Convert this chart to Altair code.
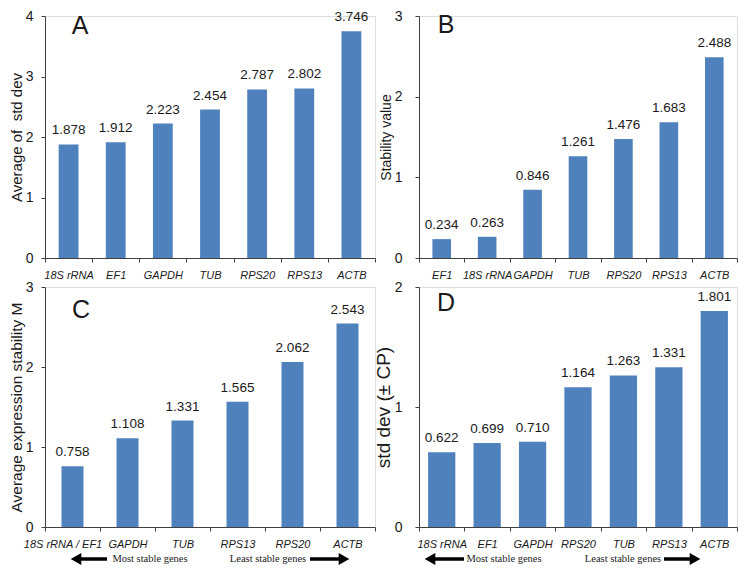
import altair as alt
import pandas as pd

# Panel A
genes_a = ["18S rRNA", "EF1", "GAPDH", "TUB", "RPS20", "RPS13", "ACTB"]
vals_a = [1.878, 1.912, 2.223, 2.454, 2.787, 2.802, 3.746]
# Panel B
genes_b = ["EF1", "18S rRNA", "GAPDH", "TUB", "RPS20", "RPS13", "ACTB"]
vals_b = [0.234, 0.263, 0.846, 1.261, 1.476, 1.683, 2.488]
# Panel C
genes_c = ["18S rRNA / EF1", "GAPDH", "TUB", "RPS13", "RPS20", "ACTB"]
vals_c = [0.758, 1.108, 1.331, 1.565, 2.062, 2.543]
# Panel D
genes_d = ["18S rRNA", "EF1", "GAPDH", "RPS20", "TUB", "RPS13", "ACTB"]
vals_d = [0.622, 0.699, 0.710, 1.164, 1.263, 1.331, 1.801]

ytitles = ["Average of\u00a0 std dev", "Stability value",
           "Average expression stability M", "std dev (\u00b1 CP)"]
letters = ["A", "B", "C", "D"]
arrow_texts = ["Most stable genes", "Least stable genes"]

BAR = "#4F81BD"
FONT = "Liberation Sans"
SERIF = "Liberation Serif"
INK = "#1a1a1a"


def panel(cats, vals, ymax, ytitle, tsize, letter, lxy, rel, w, h, lpad,
          arrows=None, first_shift=0):
    df = pd.DataFrame({"gene": cats, "value": vals})
    axis_kw = dict(title=None, labelAngle=0, tickBand="extent",
                   labelFontStyle="italic", labelFontSize=11,
                   labelFont=FONT, labelColor=INK, labelPadding=7,
                   tickSize=4, domainColor="#404040", tickColor="#404040")
    if first_shift:
        axis_kw["labelOffset"] = alt.ExprRef(
            expr="datum.value === '%s' ? %d : 0" % (cats[0], first_shift))
    x = alt.X("gene:N", sort=cats,
              scale=alt.Scale(paddingInner=0, paddingOuter=0),
              axis=alt.Axis(**axis_kw))
    y = alt.Y("value:Q",
              scale=alt.Scale(domain=[0, ymax], nice=False, zero=True),
              axis=alt.Axis(values=list(range(ymax + 1)),
                            labelExpr="format(datum.value, '.0f')",
                            labelOverlap=False, labelFlush=False,
                            title=ytitle,
                            titleFontSize=tsize, titleFont=FONT,
                            titleFontWeight="normal", titleColor=INK,
                            titlePadding=1, labelFontSize=14, labelFont=FONT,
                            labelColor=INK, labelPadding=lpad, tickSize=4,
                            grid=False, domainColor="#404040",
                            tickColor="#404040"))
    base = alt.Chart(df).encode(x=x, y=y)
    bars = base.mark_bar(color=BAR, width=alt.RelativeBandSize(rel))
    labels = base.mark_text(dy=-7, baseline="bottom", fontSize=13.5,
                            font=FONT, color=INK).encode(
        text=alt.Text("value:Q", format=".3f"))
    one = pd.DataFrame({"t": [letter]})
    let = alt.Chart(one).mark_text(fontSize=25, font=FONT, color=INK,
                                   align="center", baseline="middle").encode(
        x=alt.value(lxy[0]), y=alt.value(lxy[1]), text="t:N")
    layers = [bars, labels, let]
    if arrows is not None:
        ay = h + 32
        lt, ls, mt, lst, rs, rt = arrows
        tdf = pd.DataFrame({"t": arrow_texts})
        t1 = alt.Chart(tdf.iloc[[0]]).mark_text(
            fontSize=10.5, font=SERIF, color=INK, baseline="middle").encode(
            x=alt.value(mt), y=alt.value(ay), text="t:N")
        t2 = alt.Chart(tdf.iloc[[1]]).mark_text(
            fontSize=10.5, font=SERIF, color=INK, baseline="middle").encode(
            x=alt.value(lst), y=alt.value(ay), text="t:N")
        r1 = alt.Chart(one).mark_rule(strokeWidth=3.5, color="black").encode(
            x=alt.value(lt + 8), x2=alt.value(ls), y=alt.value(ay))
        r2 = alt.Chart(one).mark_rule(strokeWidth=3.5, color="black").encode(
            x=alt.value(rs), x2=alt.value(rt - 8), y=alt.value(ay))
        h1 = alt.Chart(one).mark_point(shape="triangle-left", filled=True,
                                       size=150, color="black", opacity=1).encode(
            x=alt.value(lt + 6), y=alt.value(ay))
        h2 = alt.Chart(one).mark_point(shape="triangle-right", filled=True,
                                       size=150, color="black", opacity=1).encode(
            x=alt.value(rt - 6), y=alt.value(ay))
        layers += [t1, t2, r1, r2, h1, h2]
    return alt.layer(*layers).properties(width=w, height=h)


WL, WR = 330, 318
HT, HB = 242, 240

pa = panel(genes_a, vals_a, 4, ytitles[0], 15, letters[0], (35, 10), 0.42, WL, HT, 8)
pb = panel(genes_b, vals_b, 3, ytitles[1], 14, letters[1], (27, 9), 0.41, WR, HT, 13)
pc = panel(genes_c, vals_c, 3, ytitles[2], 15.5, letters[2], (36, 23), 0.40, WL, HB, 8,
           arrows=(25, 62, 105, 223, 265, 305), first_shift=-10)
pd_ = panel(genes_d, vals_d, 2, ytitles[3], 19, letters[3], (27, 16), 0.60, WR, HB, 13,
            arrows=(5, 45, 85, 204, 245, 282))

chart = alt.concat(pa, pb, pc, pd_, columns=2,
                   spacing={"row": 29, "column": 44}, bounds="flush").properties(
    padding=0
).configure_view(stroke=None).configure(background="white")

chart.save("out.html", embed_options={"renderer": "svg", "actions": False})
